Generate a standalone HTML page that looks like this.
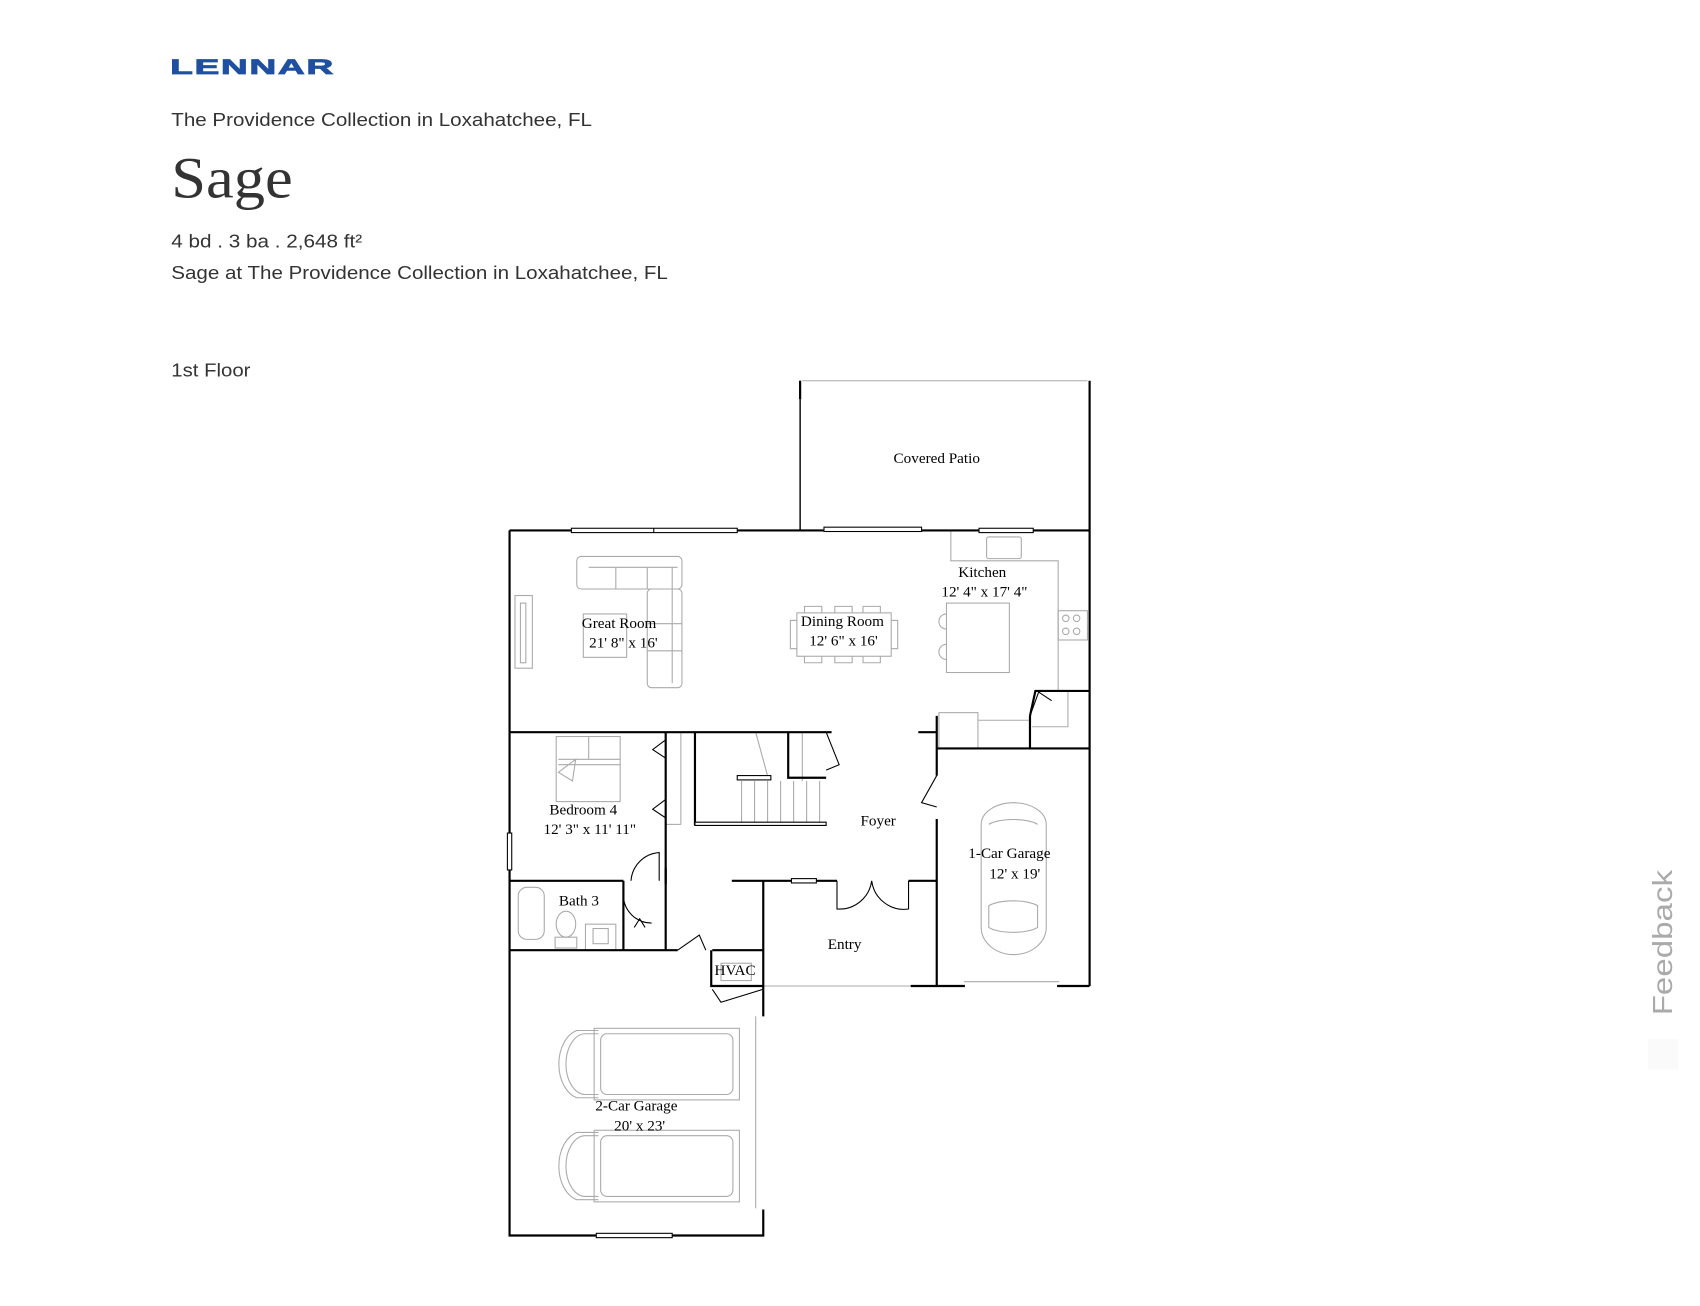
<!DOCTYPE html>
<html><head><meta charset="utf-8"><style>
html,body{margin:0;padding:0;background:#fff;width:1700px;height:1306px;overflow:hidden}
svg{display:block}
</style></head><body>
<svg width="1700" height="1306" viewBox="0 0 1568 1204" preserveAspectRatio="none" xmlns="http://www.w3.org/2000/svg">
<g font-family="Liberation Sans, sans-serif" fill="#333">
<text x="157" y="68" font-size="20" font-weight="bold" fill="#1f4fa0" stroke="#1f4fa0" stroke-width="0.8" letter-spacing="1" textLength="152" lengthAdjust="spacingAndGlyphs">LENNAR</text>
<text x="158" y="116" font-size="17" textLength="388" lengthAdjust="spacingAndGlyphs">The Providence Collection in Loxahatchee, FL</text>
<text x="158" y="182" font-size="54" font-family="Liberation Serif, serif" textLength="112" lengthAdjust="spacingAndGlyphs">Sage</text>
<text x="158" y="228" font-size="17" textLength="176" lengthAdjust="spacingAndGlyphs">4 bd . 3 ba . 2,648 ft²</text>
<text x="158" y="257" font-size="17" textLength="458" lengthAdjust="spacingAndGlyphs">Sage at The Providence Collection in Loxahatchee, FL</text>
<text x="158" y="347" font-size="17" textLength="73" lengthAdjust="spacingAndGlyphs">1st Floor</text>
<text transform="translate(1542,936) rotate(-90)" font-size="26" fill="#aaa" textLength="134" lengthAdjust="spacingAndGlyphs">Feedback</text>
</g>
<rect x="1520" y="958" width="28" height="28" fill="#fafafa"/>
<g fill="none" stroke="#aaa" stroke-width="1">
<line x1="740" y1="351" x2="1003" y2="351"/>
<rect x="475" y="549" width="16" height="67"/><rect x="480" y="556" width="5" height="55"/>
<rect x="532" y="513" width="97" height="30" rx="4"/><rect x="597" y="543" width="32" height="91" rx="4"/>
<line x1="568" y1="523" x2="568" y2="543"/><line x1="597" y1="523" x2="597" y2="543"/><line x1="543" y1="523" x2="625" y2="523"/>
<line x1="620" y1="523" x2="620" y2="630"/><line x1="597" y1="575" x2="629" y2="575"/><line x1="597" y1="600" x2="629" y2="600"/>
<rect x="538" y="566" width="40" height="40"/>
<rect x="735" y="565" width="87" height="40"/>
<path d="M742,565 v-6 h16 v6 M770,565 v-6 h16 v6 M796,565 v-6 h16 v6 M742,605 v6 h16 v-6 M770,605 v6 h16 v-6 M796,605 v6 h16 v-6 M735,572 h-6 v26 h6 M822,572 h6 v26 h-6"/>
<path d="M877,489 v28 h99 v120"/>
<rect x="910" y="495" width="32" height="20" rx="2"/>
<rect x="976" y="563" width="27" height="27"/>
<circle cx="983" cy="570" r="3"/><circle cx="993" cy="570" r="3"/><circle cx="983" cy="582" r="3"/><circle cx="993" cy="582" r="3"/>
<rect x="873" y="556" width="58" height="64"/>
<path d="M873,566 a6,6 0 0 0 0,14 M873,594 a6,6 0 0 0 0,14"/>
<rect x="866" y="657" width="36" height="33"/><path d="M902,664 h47 M985,637 v33 h-33"/>
<rect x="513" y="679" width="59" height="60"/><line x1="543" y1="679" x2="543" y2="700"/><path d="M515,700 h57 M515,705 h57 M531,700 l-16,12 l13,8 z"/>
<line x1="628" y1="675" x2="628" y2="760"/><line x1="614" y1="760" x2="628" y2="760"/>
<path d="M697,675 l12,44 M684,720 v40 M696,720 v40 M708,720 v40 M720,720 v40 M732,720 v40 M744,720 v40 M756,720 v40 M740,675 v45"/>
<rect x="478" y="818" width="24" height="48" rx="8"/><ellipse cx="522" cy="852" rx="9" ry="12"/><rect x="512" y="864" width="20" height="10"/>
<rect x="540" y="852" width="28" height="24"/><rect x="547" y="856" width="14" height="14"/>
<rect x="665" y="888" width="28" height="16"/>
<path d="M575,876 h50"/>
<rect x="548" y="948" width="134" height="66"/><rect x="554" y="953" width="122" height="56" rx="6"/>
<path d="M552,950 h-20 a22,32 0 0 0 0,62 h20 M552,953 h-12 a18,28 0 0 0 0,56 h12"/>
<rect x="548" y="1042" width="134" height="66"/><rect x="554" y="1047" width="122" height="56" rx="6"/>
<path d="M552,1044 h-20 a22,32 0 0 0 0,62 h20 M552,1047 h-12 a18,28 0 0 0 0,56 h12"/>
<path d="M697,937 v177"/>
<path d="M905,760 a30,20 0 0 1 60,0 v95 a30,25 0 0 1 -60,0 z"/><path d="M912,835 a25,8 0 0 1 45,0 v20 a25,8 0 0 1 -45,0 z"/><path d="M912,760 a25,8 0 0 1 45,0"/>
<path d="M889,905 h88 M704,909 h160"/>
</g>
<g fill="none" stroke="#000" stroke-width="2">
<path d="M738,368 V351 M1005,351 V909"/>
<line x1="738" y1="351" x2="738" y2="489" stroke-width="1.3"/>
<path d="M470,489 H527 M680,489 H760 M850,489 H903 M953,489 H1005"/>
<path d="M470,489 V1139 H704 V1115 M704,937 V909 M704,909 V812 M704,909 H656 V876"/>
<path d="M470,675 H767 M847,675 H864 M864,660 V715 M864,755 V909 M840,909 H864 M864,909 H890 M975,909 H1005"/>
<path d="M864,690 H1005 M950,690 V660 M950,660 L955,637 H1005"/>
<path d="M614,675 V815 M641,675 V760 H762 M680,717 H711 M727,675 V717 H762"/>
<path d="M470,812 H575 M575,812 V876 M470,876 H625 M614,800 V876 M657,876 H704 M675,812 H772 M838,812 H864"/>
</g>
<g fill="#fff" stroke="#000" stroke-width="1">
<rect x="527" y="487" width="153" height="4"/><line x1="603" y1="487" x2="603" y2="491"/>
<rect x="760" y="486" width="90" height="4"/><rect x="903" y="487" width="50" height="4"/>
<rect x="468" y="768" width="4" height="34"/><rect x="550" y="1137" width="70" height="4"/>
<rect x="730" y="810" width="23" height="4"/><rect x="680" y="715" width="31" height="4"/>
<path d="M641,758 h121 v3 h-121 z"/>
</g>
<g fill="none" stroke="#000" stroke-width="1">
<path d="M614,682 l-12,9 l12,8 M614,737 l-12,9 l12,8"/>
<path d="M762,675 l12,30 l-12,5 M864,715 l-14,25 l14,4"/>
<path d="M772,812 v26 a30,30 0 0 0 32,-26 a30,30 0 0 0 34,26 v-26"/>
<path d="M608,812 v-26 a28,28 0 0 0 -26,26 M575,825 a26,26 0 0 0 26,26"/>
<path d="M625,876 l20,-14 l6,14"/>
<path d="M657,912 l8,12 l39,-12"/>
<path d="M950,660 l8,-22 l12,8"/>
<path d="M585,855 l5,-8 l5,8"/>
</g>
<g font-family="Liberation Serif, serif" font-size="14" fill="#000" text-anchor="middle">
<text x="864" y="427">Covered Patio</text>
<text x="906" y="532">Kitchen</text><text x="908" y="550">12' 4" x 17' 4"</text>
<text x="571" y="579">Great Room</text><text x="575" y="597">21' 8" x 16'</text>
<text x="777" y="577">Dining Room</text><text x="778" y="595">12' 6" x 16'</text>
<text x="538" y="751">Bedroom 4</text><text x="544" y="769">12' 3" x 11' 11"</text>
<text x="810" y="761">Foyer</text>
<text x="931" y="791">1-Car Garage</text><text x="936" y="810">12' x 19'</text>
<text x="534" y="835">Bath 3</text>
<text x="779" y="875">Entry</text>
<text x="678" y="899">HVAC</text>
<text x="587" y="1024">2-Car Garage</text><text x="590" y="1042">20' x 23'</text>
</g>
</svg>
</body></html>
